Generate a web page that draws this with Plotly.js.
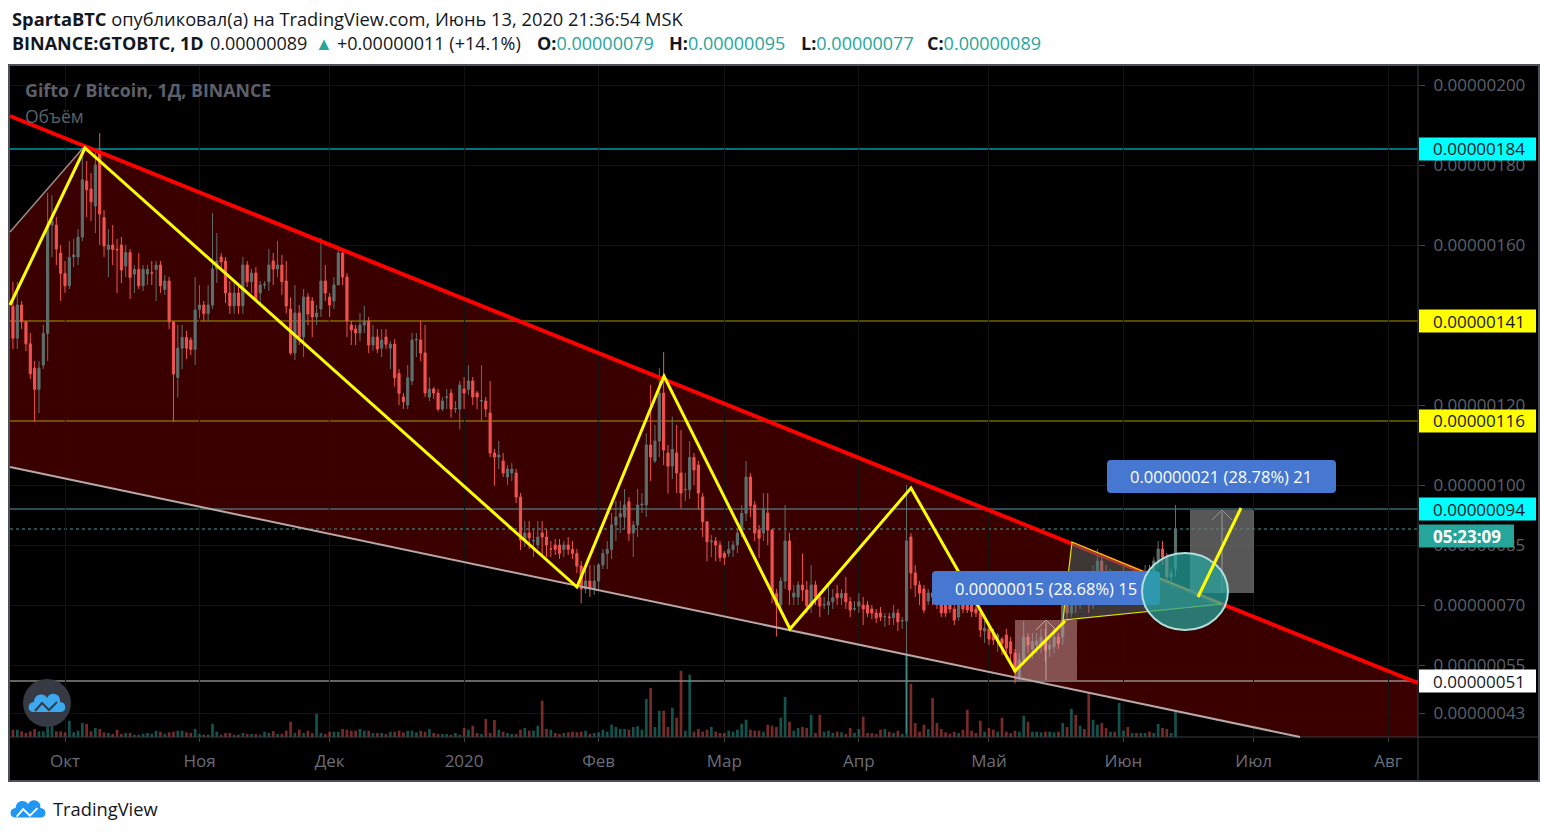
<!DOCTYPE html>
<html><head><meta charset="utf-8">
<script src="https://cdn.plot.ly/plotly-3.0.1.min.js"></script>
<style>html,body{margin:0;padding:0;background:#fff;}#chart{width:1549px;height:836px;}</style>
</head><body><div id="chart"></div>
<script>
// ---- DATA (prices in satoshi, 1 sat = 0.00000001 BTC), daily candles from 2019-09-19 to 2020-06-13 ----
const firstDay = '2019-09-19';
const open = [
// Sep
144.6,136.7,145,140.8,135.3,129.2,123.9,130,137.9,165,165,158,
// Oct
152.9,149.8,157,157,162,176,174,169.75,183.6,166.9,158.9,160,158.9,160,154.75,158.1,152.75,153.9,149.8,152.75,153,153.9,155,148.9,151,140.8,126.9,134.2,136.9,136.25,133.9,
// Nov
143.9,145,142.9,145,154,157,156,148,144.8,148,144.8,155,150.8,153,148,150,150.8,156,154,155,151,144,133,143,137,147,146,142,144,151,
// Dec
147,146,150,158,152,140,139,138,140,141,135,137,134.2,137,134.2,135.2,127.9,122,120,126,136.25,136.25,133,122,124,123,119,121.9,123,119,119,
// Jan
124,123.9,126,123,121,121,118,108,107,106,102,103,103,97,86.25,88,86,85,88,87,84,85,85,83.9,85,83.9,82.9,79.75,74,76,74,
// Feb
76,80,82.9,83.9,90,92,92,95.8,88,90,95,95,110,106,111,123,108,104.75,108,103,98.8,98.8,106.9,105,97,90.8,85.8,86,85,
// Mar
82.9,82.9,83.9,85,88.75,92.9,102,95,88.75,88,93,88.75,72.9,70,76,86,72,72,75,73.75,69.75,75,72,70,70,70.8,72.9,71.8,72.9,70.8,69,
// Apr
69.75,70,70,69,68,68,67,67,66.8,68,66,66,87,78,75,74,71,73,72,72,70,70,69,67,70,70,70,69,68,63.5,
// May
64,62.9,61.5,61.5,62.5,60.8,58,52,56.25,62,59,60,59.5,61,59,59.6,62,62,70,68,72,70,74,72,70,76,81,78,74,76,73,
// Jun
74,76,73,75,73,74,78,77,81,84,82,77,79
];
const high = [
150.8,150.8,146,141,138,131,131,140,173,172.5,167,160,
156,161,161.5,164,184,181,178,183.5,188,168.75,164,165,161.5,162,160,159,155,158,155,155,156,156,156,152.5,152,141,140,140,138.5,137,152,
150,146,150,168,163,158,157,151,151,150,157,156,154,154.5,151,151,159,158,161,157.5,156,146.9,150,145,149,148,147,145,161.8,155,
148,152,159,159,153,141,140,143,144.8,142,140,139,139,139,136,136.5,129,123,130,138,138,141.1,140,127,124.5,124,122,124,124,121,126,
127,130,127,123.5,130,122,126,109,111,108,105,105.5,104,98,91,91,89,91,91,89,86,86.5,86.5,86,87,86,84,81,79,80,80,
80.5,84,86,93,96,96,99,97,91,99,98,112.9,125,115,129.2,133.2,110,117.1,115,113.75,103,111,108,106,98,91,87.5,87,86,
83.5,86,86,89,95,106,103,96,90,98,98,89,74,77,95,88,75,76,82.9,76,80,76,73,72,75,74,75,74,77,72,71,
73,72,71,70,69,69.5,68,68,70,69,67,100,88,80,76,75,74,75,74,73,71,71,70,71,71,71,71,70,69,66,
65,64,63,62,64,62,59,58,66,63,63,63,64,64,62,64,63,71,73,74,76,77,75,74,80,84,83,80,79,78,76,
80,77,78,76,77,80,80,82,86,86,83,79,95
];
const low = [
134,134,139,133.5,126.5,115.8,118,129,131,157,155,146,
148,149,154.5,155,161,167,166,163,160,157,152,155,148,150.5,152,146.5,148,149,148.5,150,150,146,148,147.5,139,115.8,121.9,129,131.5,132.5,130,
141.7,141,141,144,150.5,154,145.5,142.8,142.8,142.8,142.8,149.5,148,146,145.5,149,148.5,150,152,147.5,142.9,132.5,131.25,135,132,140,137,140,142,146,
142,144,150,150,137,135,135,136,138,133,133.5,133,132,134,129,124.6,120,119,119,125,132,131,122,121,121.5,118.5,118.5,119,116.8,118,113.9,
119,122.5,120,119,115.8,117,107,99.8,104,102,100,101,95.5,83.75,84.5,84,82,84,82.5,82,82,82.5,81.5,82,82.5,81.5,78,70.4,72.9,72,72.5,
74,79,79,81.5,86,88,89,86,82,87,93,92,101,105.5,107,105,97.9,101.5,98,94.2,96,96.5,100,94,87,80.9,82,80.9,80.9,
80,82,82,83,87,91,92,86,81.7,86,85,70.4,62.1,68,74,70,70,70,71,68,68,70,67,69,67.5,69,70,70,69,67,68.5,
68,65,67,66.5,65.5,66,64.5,65,65,63.5,64,38,74,72,70,68,70,70,69,67,67,68,65,66,68,68,67,67,62,60.5,
60,60,58.3,57.5,58,56,50.4,51,55,58,56.5,58,58,56,57,58,59,60,66,67,68,69,70,68,69,74,76,72,72,71,71,
72,71,72,71,72,73,75,76,79,80,76,74,77
];
const close = [
136.7,145,140.8,135.3,127.8,123.9,129.2,137.9,165,166,159,152.9,
149.8,156.9,157.5,162,176.3,173.8,170.8,180,167.75,159.75,160,158.9,158.8,153.75,158.1,151.9,153.9,149.8,153.9,153.9,153,155,149.8,151,140.8,127.75,134.2,136.9,134.2,133.9,143.75,
145,142.9,145,154,156,155.8,148,144.8,148,144.8,155,150.8,153,146.25,150,150.2,155,154,155,150.8,144.75,133,143,137,147,142.75,142,143,151,148,
145,150,158,152,141,138.75,138,140,141,135,137,134,136.25,135.2,135.2,126.8,122.9,120.8,126.8,136.25,136.4,133,123,124,123,119,121,122,119,119.1,125,
123,126,122,122,121.1,119,108,107,107.5,103,104,104,97,86.25,88,86.8,86.1,87,87,85,84,83.9,82.9,85,83.9,82.9,79.75,74,76,74,76,
80,82.9,83.9,90,92,92.9,95,87.9,90,95,95.2,110,107,111,123,108.75,104.75,108.9,103,98,98.9,106.9,103.75,98,90.8,85.8,86,85,81.9,
81.9,83.9,85,88,92.9,102,94.75,88,86.7,94,88.75,72.9,70,76,86,73.75,73,75,73.75,69.75,75,72,69.75,70.1,70.8,71.8,71.8,72.9,70.8,68.75,69.1,
70.8,69,68,68,66.8,67,67.1,66.9,68,65.8,66.1,86,78,75,73,68.75,73,72,71,68,68,69,66.25,70,69,68.75,68.4,68,63.75,64.2,
61.5,61.25,62.5,60.4,59.2,57.9,53.3,56.25,62,60,60.8,61,62,58.75,60,62,60.4,70,68,72,70,74,72,70,76,81,78,74,76,73,74,
76,73,75,73,74,78,77,81,84,82,77,78,89
];
const volume = [
7.3,7.3,5.7,4,5.7,8,5.7,5.7,12.3,12.3,5.7,5.7,
4.7,16.3,4.7,6.3,14,13,5.7,9,8,4.7,4,3,7.3,3,4,4,2.3,2.3,3.3,4,3.3,6.3,5.3,3.3,4.7,5.3,6.3,6.3,4.7,4,8,
3,2.3,2.3,13.3,5.3,2.3,4,4,2.3,2.3,4,3,3,3,2.3,5.3,4,6,3,3,6.3,15.3,4,7.3,4,6.3,4,23.3,4,3,
5.3,5.3,5.3,8,7.3,6.3,6.3,8,6.3,6.3,4,4,4,3,5.3,5.3,6.3,4.7,6.3,6.3,4.7,6.3,5.3,8,4,3,3,3,2.3,4,2.3,
9,7.3,11.3,4,3,18,4,17,7.3,5.3,4,3,3,7.3,9,6.3,6.3,11.3,36.3,8,7.3,4,3,4,4.7,5.3,4.7,5.3,6.3,3,4,
4.7,7.3,5.3,12.3,10,8,8,7.3,10,10.7,7.3,38,49,10,26.3,26.3,10,29.3,19.3,66.3,6.3,62.3,5.3,8,5.3,7.3,10,5.3,4,
4,6.3,5.3,7.3,13.3,17.3,7.3,6.3,6.3,5.3,12.3,11.3,10,19.3,40,15.3,6.3,9,10,9,22.3,4,22.3,5.3,6.3,4,5.3,4.7,3,9,4,
8,20.3,4,4,3,7.3,8,5.3,4,6.3,3,82,53.3,14,5.3,12.3,8,39,14,8,4.7,3.3,5.3,4,7.3,27.3,6.3,4,16.3,5.3,
9,7.3,5.3,19.3,5.3,4,6.3,5.3,21.3,15.3,5.3,5.3,4.7,5.3,5.3,4.7,5.3,14,10,28,22,11.3,8,44,17.3,12.3,14,9,5.3,5.3,34,
6.3,10,4,4,4,4,5.3,4,13,9,8,4,25.7
];
const monthTicks = ['2019-10-01','2019-11-01','2019-12-01','2020-01-01','2020-02-01','2020-03-01','2020-04-01','2020-05-01','2020-06-01','2020-07-01','2020-08-01'];
const monthLabels = ['Окт','Ноя','Дек','2020','Фев','Мар','Апр','Май','Июн','Июл','Авг'];
const priceTicks = [43,55,70,85,100,120,160,180,200];
const levels = {cyan1:184, y1:141, y2:116, cyan2:94, white:51, last:89};

// ---- derived ----
const S = 1e-8;
const dates = open.map((_, i) => { const d = new Date(Date.UTC(2019, 8, 19 + i)); return d.toISOString().slice(0,10); });
const toP = a => a.map(v => v * S);
const volColors = close.map((c, i) => c >= open[i] ? 'rgba(38,166,154,0.5)' : 'rgba(239,83,80,0.5)');

// ---- pixel helpers for drawings / decoration ----
const PL=10, PR=1418, PT=66, PB=737;
const px = x => (x-PL)/(PR-PL);
const py = y => (PB-y)/(PB-PT);
function path(cmds){
  return cmds.map(c => {
    const op = c[0]; const n = c.slice(1); const out=[];
    for (let i=0;i<n.length;i+=2) out.push(px(n[i]).toFixed(5)+','+py(n[i+1]).toFixed(5));
    return op + (out.length? ' '+out.join(' '):'');
  }).join(' ');
}
const shapes = [];
const ann = [];
function rect(x0,y0,x1,y1,fill,line,lw,layer){shapes.push({type:'rect',xref:'paper',yref:'paper',x0:px(x0),x1:px(x1),y0:py(y1),y1:py(y0),fillcolor:fill,line:{color:line||'rgba(0,0,0,0)',width:lw||0},layer:layer||'above'});}
function rrect(x0,y0,x1,y1,r,fill){const c=[['M',x0+r,y0],['L',x1-r,y0],['Q',x1,y0,x1,y0+r],['L',x1,y1-r],['Q',x1,y1,x1-r,y1],['L',x0+r,y1],['Q',x0,y1,x0,y1-r],['L',x0,y0+r],['Q',x0,y0,x0+r,y0],['Z']];shapes.push({type:'path',xref:'paper',yref:'paper',path:path(c),fillcolor:fill,line:{width:0},layer:'above'});}
function seg(x0,y0,x1,y1,color,w,layer,dash){shapes.push({type:'line',xref:'paper',yref:'paper',x0:px(x0),x1:px(x1),y0:py(y0),y1:py(y1),line:{color:color,width:w,dash:dash||'solid'},layer:layer||'above'});}
function poly(pts,color,w,fill,layer){const c=[['M',pts[0][0],pts[0][1]]];for(let i=1;i<pts.length;i++)c.push(['L',pts[i][0],pts[i][1]]);if(fill)c.push(['Z']);shapes.push({type:'path',xref:'paper',yref:'paper',path:path(c),line:{color:color,width:w},fillcolor:fill||'rgba(0,0,0,0)',layer:layer||'above'});}
function txt(x,y,t,size,color,anchor,weight,fam){ann.push({xref:'paper',yref:'paper',x:px(x),y:py(y),text:t,showarrow:false,xanchor:anchor||'left',yanchor:'middle',font:{size:size,color:color,family:fam||'Open Sans, sans-serif',weight:weight||'normal'}});}
const yOf = p => 85 + (200-p)*4; // price (sat) -> pixel, for label boxes of levels

// frame + axis areas
rect(9,65,1539,781,'#000000','#4c505b',2,'below');
// channel fill
poly([[10,232],[84,147],[1418,683],[1418,737],[1300,737],[10,467]],'rgba(0,0,0,0)',0,'#3a0000','below');
// level lines
seg(10,yOf(levels.cyan1),1418,yOf(levels.cyan1),'#00e5ff',1,'below');
seg(10,yOf(levels.y1),1418,yOf(levels.y1),'#a89a00',1,'below');
seg(10,yOf(levels.y2),1418,yOf(levels.y2),'#a89a00',1,'below');
seg(10,yOf(levels.cyan2),1418,yOf(levels.cyan2),'#5a9aa5',1,'below');
seg(10,yOf(levels.last),1418,yOf(levels.last),'#4f9f98',1,'below','dot');
seg(10,yOf(levels.white),1418,yOf(levels.white),'#c8c8c8',1,'below');
// separators
seg(1418,66,1418,781,'#3a3d45',1,'above');
seg(10,737,1539,737,'#3a3d45',1,'above');
// channel lines
seg(10,232,84,147,'#9a8a8a',1.5);
seg(10,467,1300,737,'#b8a8a8',2);
seg(10,116,1418,683,'#ff0000',4);
// pink price-range rect
rect(1015,620,1077,680,'rgba(205,160,160,0.5)');
seg(1046,622,1046,680,'rgba(225,205,205,0.7)',1);
poly([[1036,630],[1046,620],[1056,630]],'rgba(225,205,205,0.7)',1);
// triangle pattern
poly([[1063,620],[1072,542],[1222,604]],'#e6e600',1.2,'rgba(70,120,120,0.45)');
// zigzag
poly([[10,305],[85,148],[577,587],[664,376],[790,629],[911,488],[1015,671],[1065,621]],'#ffff00',3);
// grey rect target
rect(1190,510,1254,593,'rgba(120,120,120,0.72)');
seg(1222,512,1222,593,'rgba(170,170,170,0.8)',1);
poly([[1212,520],[1222,510],[1232,520]],'rgba(170,170,170,0.8)',1);
// blue labels (shapes) + text
rrect(932,571,1160,605,4,'#4678d2');
rrect(1107,460,1336,493,4,'#4678d2');
// circle
shapes.push({type:'circle',xref:'paper',yref:'paper',x0:px(1142),x1:px(1228),y0:py(630),y1:py(553),fillcolor:'rgba(38,166,160,0.72)',line:{color:'#b2dfdb',width:2},layer:'above'});
// yellow forecast line
seg(1198,597,1241,508,'#ffff00',3);
txt(1046,588,'0.00000015 (28.68%) 15',16.5,'#ffffff','center');
txt(1221,476,'0.00000021 (28.78%) 21',16.5,'#ffffff','center');

// price-axis level boxes
function lvlBox(p,bg,fg,label,w,bold){const y=yOf(p);rect(1419,y-11.5,1419+(w||117),y+11.5,bg);txt(1431,y,label,17,fg,'left',bold?'bold':'normal');}
lvlBox(levels.cyan1,'#00ffff','#131722','0.00000184');
lvlBox(levels.y1,'#ffff00','#131722','0.00000141');
lvlBox(levels.y2,'#ffff00','#131722','0.00000116');
lvlBox(levels.cyan2,'#00ffff','#131722','0.00000094');
lvlBox(levels.white,'#ffffff','#131722','0.00000051');
{const y=yOf(levels.last)+7; rect(1419,y-11.5,1514,y+11.5,'#26a69a'); txt(1431,y,'05:23:09',17,'#ffffff','left','bold');}

// watermark logo
shapes.push({type:'circle',xref:'paper',yref:'paper',x0:px(23),x1:px(71),y0:py(727),y1:py(679),fillcolor:'#363a45',line:{width:0},layer:'above'});
function cloud(cx,cy,s,fill,lineCol){
  const P=(a,b)=>[cx+a*s,cy+b*s];
  const c=[['M',...P(-14,8)],['C',...P(-20,8),...P(-20,-2),...P(-13,-2)],['C',...P(-13,-10),...P(-3,-12),...P(0,-6)],['C',...P(3,-13),...P(14,-11),...P(13,-2)],['C',...P(20,-2),...P(20,8),...P(14,8)],['Z']];
  shapes.push({type:'path',xref:'paper',yref:'paper',path:path(c),fillcolor:fill,line:{width:0},layer:'above'});
  poly([P(-12,7),P(-5,-1),P(2,6),P(10,-2)],lineCol,2*s);
}
cloud(47,704,1,'#3ca8f0','#363a45');
cloud(28,810,0.95,'#2196f3','#ffffff');

// header text
txt(10,18,'<b>SpartaBTC</b> опубликовал(а) на TradingView.com, Июнь 13, 2020 21:36:54 MSK',18.3,'#131722');
const T='#26a69a';
txt(10,43,'<b>BINANCE:GTOBTC, 1D</b>',18,'#131722');
txt(208,43,'0.00000089',18,'#131722');
txt(313,43,'▲',18,T);
txt(335,43,'+0.00000011 (+14.1%)',18,'#131722');
txt(535,43,'<b>O:</b><span style="color:'+T+'">0.00000079</span>',18,'#131722');
txt(667,43,'<b>H:</b><span style="color:'+T+'">0.00000095</span>',18,'#131722');
txt(799,43,'<b>L:</b><span style="color:'+T+'">0.00000077</span>',18,'#131722');
txt(925,43,'<b>C:</b><span style="color:'+T+'">0.00000089</span>',18,'#131722');
txt(23,90,'<b>Gifto / Bitcoin, 1Д, BINANCE</b>',17.8,'#5d606b');
txt(23,116,'Объём',17.5,'#5d606b');
txt(51,808,'TradingView',18.3,'#131722');

const traces = [
  {type:'candlestick',x:dates,open:toP(open),high:toP(high),low:toP(low),close:toP(close),
   increasing:{line:{color:'#5c716d',width:1},fillcolor:'#5c716d'},
   decreasing:{line:{color:'#ef5350',width:1},fillcolor:'#ef5350'},
   whiskerwidth:0,hoverinfo:'skip',showlegend:false,xaxis:'x',yaxis:'y'},
  {type:'bar',x:dates,y:volume,marker:{color:volColors,line:{width:0}},width:0.62*86400000,hoverinfo:'skip',showlegend:false,xaxis:'x',yaxis:'y2'}
];

const layout = {
  width:1549,height:836,margin:{l:PL,r:1549-PR,t:PT,b:836-PB},
  paper_bgcolor:'#ffffff',plot_bgcolor:'#000000',showlegend:false,
  font:{family:'Open Sans, sans-serif'},
  xaxis:{type:'date',range:['2019-09-18 07:42','2020-08-07 21:36'],tickvals:monthTicks,ticktext:monthLabels,
    tickfont:{size:17,color:'#6a6d78'},ticks:'outside',ticklen:4,tickcolor:'#444',ticklabelstandoff:5,
    showgrid:true,gridcolor:'#131313',zeroline:false,showline:false,rangeslider:{visible:false},fixedrange:true},
  yaxis:{side:'right',range:[37*S,204.75*S],tickvals:toP(priceTicks),tickformat:'.8f',
    tickfont:{size:17,color:'#5d606b'},ticks:'outside',ticklen:6,tickcolor:'#444',ticklabelstandoff:5,
    showgrid:true,gridcolor:'#131313',zeroline:false,showline:false,fixedrange:true},
  yaxis2:{overlaying:'y',range:[0,671],visible:false,fixedrange:true},
  shapes:shapes,annotations:ann
};
Plotly.newPlot('chart',traces,layout,{staticPlot:true,displayModeBar:false});
</script></body></html>
